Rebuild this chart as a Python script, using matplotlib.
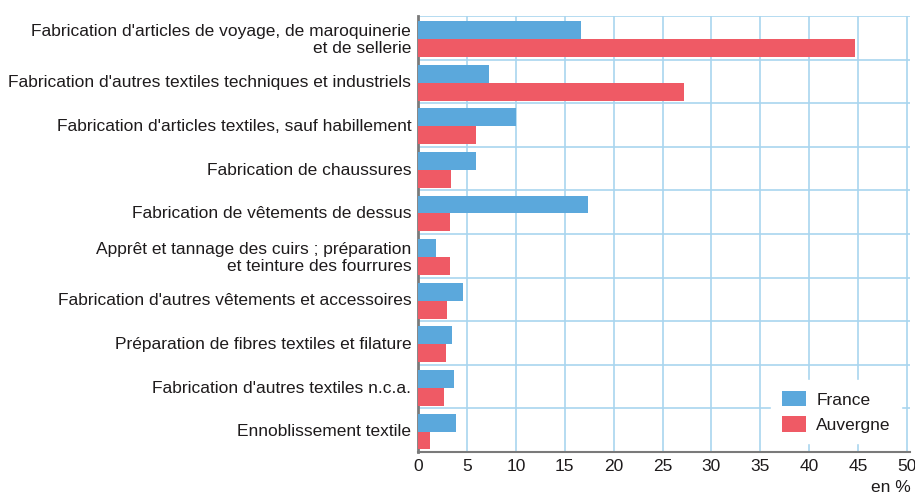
import matplotlib
matplotlib.use("Agg")
import matplotlib.pyplot as plt
import numpy as np

plt.rcParams['font.family'] = ['Liberation Sans', 'DejaVu Sans']

categories = [
    "Fabrication d'articles de voyage, de maroquinerie\net de sellerie",
    "Fabrication d'autres textiles techniques et industriels",
    "Fabrication d'articles textiles, sauf habillement",
    "Fabrication de chaussures",
    "Fabrication de vêtements de dessus",
    "Apprêt et tannage des cuirs ; préparation\net teinture des fourrures",
    "Fabrication d'autres vêtements et accessoires",
    "Préparation de fibres textiles et filature",
    "Fabrication d'autres textiles n.c.a.",
    "Ennoblissement textile",
]
france = [16.7, 7.2, 10.0, 5.9, 17.4, 1.8, 4.6, 3.5, 3.7, 3.9]
auvergne = [44.7, 27.2, 5.9, 3.4, 3.3, 3.3, 3.0, 2.8, 2.6, 1.2]
x_ticks = list(range(0, 55, 5))

BLUE = '#5ba8dc'
RED = '#ef5a65'
GRID = '#a9d5ef'
TXT = '#1e1b1c'

fig = plt.figure(figsize=(9.15, 4.97), dpi=100)
ax = fig.add_axes([0.457, 0.0905, 0.5375, 0.8775])

y = np.arange(len(categories))
h = 0.41
ax.barh(y - h / 2 + 0.03, france, h, color=BLUE, label='France', zorder=3)
ax.barh(y + h / 2 + 0.03, auvergne, h, color=RED, label='Auvergne', zorder=3)

ax.set_ylim(len(categories) - 0.5, -0.5)
ax.set_xlim(0, 50.3)
ax.set_yticks(y)
ax.set_yticklabels(categories, fontsize=12.5, color=TXT, linespacing=1.12)
ax.set_xticks(x_ticks)
ax.set_xticklabels([str(v) for v in x_ticks], fontsize=12.5, color=TXT)
ax.set_yticks(np.arange(len(categories) + 1) - 0.5, minor=True)
ax.tick_params(axis='both', which='both', length=0)
ax.tick_params(axis='y', pad=5)
ax.tick_params(axis='x', pad=5)

ax.grid(axis='x', which='major', color=GRID, linewidth=1.2, zorder=0)
ax.grid(axis='y', which='minor', color=GRID, linewidth=1.2, zorder=0)
ax.set_axisbelow(True)

for s in ['top', 'right']:
    ax.spines[s].set_visible(False)
ax.spines['left'].set_color('#7a7a7a')
ax.spines['left'].set_linewidth(2)
ax.spines['bottom'].set_color('#7a7a7a')
ax.spines['bottom'].set_linewidth(1.5)

leg = ax.legend(loc='lower right', bbox_to_anchor=(1.0, 0.0), fontsize=12.5,
                frameon=True, handlelength=1.4, handleheight=1.0,
                borderpad=0.6, labelspacing=0.5, handletextpad=0.6)
leg.get_frame().set_facecolor('white')
leg.get_frame().set_edgecolor('white')
leg.get_frame().set_alpha(1)
for t in leg.get_texts():
    t.set_color(TXT)

fig.text(0.995, 0.005, 'en %', ha='right', va='bottom', fontsize=12.5, color=TXT)

plt.savefig('out.png', dpi=100)
